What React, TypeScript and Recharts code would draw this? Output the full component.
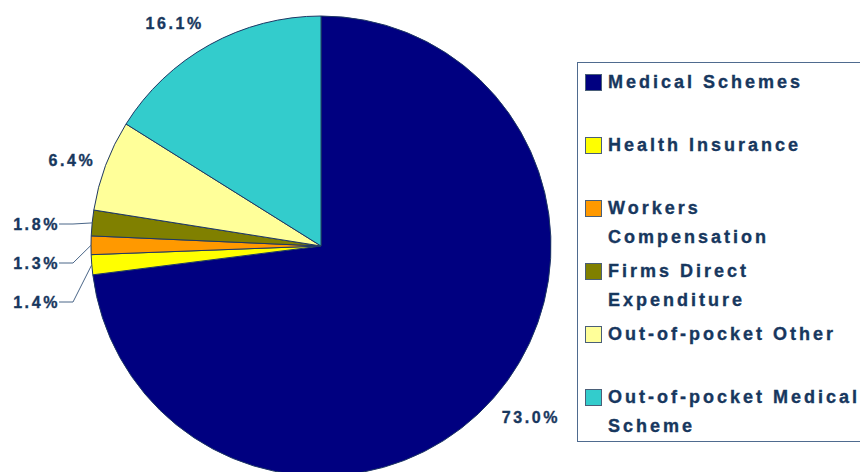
import { PieChart, Pie, Cell, Legend } from 'recharts'

const categories = [
  'Medical Schemes',
  'Health Insurance',
  'Workers Compensation',
  'Firms Direct Expenditure',
  'Out-of-pocket Other',
  'Out-of-pocket Medical Scheme',
]
const shares = [73.0, 1.4, 1.3, 1.8, 6.4, 16.1]
const legendLines = [
  ['Medical Schemes'],
  ['Health Insurance'],
  ['Workers', 'Compensation'],
  ['Firms Direct', 'Expenditure'],
  ['Out-of-pocket Other'],
  ['Out-of-pocket Medical', 'Scheme'],
]

const COLORS = ['#000080', '#ffff00', '#ff9900', '#808000', '#ffff99', '#33cccc']
const TEXT = '#17375e'
const FONT = 'Arial, "Liberation Sans", Helvetica, sans-serif'

// label nudges for the larger slices (layout only)
const NUDGE: Record<number, [number, number]> = {
  0: [8, -6],
  4: [3, 9],
  5: [-16, 13],
}

const data = categories.map((name, i) => ({ name, value: shares[i] }))

const RAD = Math.PI / 180

const labelStyle = {
  fill: TEXT,
  fontFamily: FONT,
  fontWeight: 700,
  fontSize: 16,
  letterSpacing: 2.6,
  stroke: TEXT,
  strokeWidth: 0.35,
}

function renderLabel(props: any) {
  const { cx, cy, midAngle, outerRadius, index, value } = props
  const text = `${Number(value).toFixed(1)}%`
  if (value < 3) {
    const small = data.map((d, i) => (d.value < 3 ? i : -1)).filter((i) => i >= 0)
    const rank = small.indexOf(index)
    const ly = cy + 56 - rank * 39
    const ex = cx + outerRadius * Math.cos(-midAngle * RAD)
    const ey = cy + outerRadius * Math.sin(-midAngle * RAD)
    const kx = cx - outerRadius - 18
    const lx = cx - outerRadius - 32
    return (
      <g>
        <polyline
          points={`${ex},${ey} ${kx},${ly} ${lx},${ly}`}
          fill="none"
          stroke="#4a6688"
          strokeWidth={1}
        />
        <text x={lx + 1} y={ly} textAnchor="end" dominantBaseline="central" style={labelStyle}>
          {text}
        </text>
      </g>
    )
  }
  const r = outerRadius * 1.17
  const [dx, dy] = NUDGE[index] ?? [0, 0]
  const x = cx + r * Math.cos(-midAngle * RAD) + dx
  const y = cy + r * Math.sin(-midAngle * RAD) + dy
  return (
    <text x={x} y={y} textAnchor="middle" dominantBaseline="central" style={labelStyle}>
      {text}
    </text>
  )
}

function LegendBox() {
  return (
    <div
      style={{
        border: '1px solid #4f6b8f',
        boxSizing: 'border-box',
        width: 320,
        height: 380,
        paddingTop: 5,
        paddingLeft: 7,
        fontFamily: FONT,
        fontWeight: 700,
        fontSize: 18,
        letterSpacing: 3,
        color: TEXT,
        WebkitTextStroke: '0.35px ' + TEXT,
      }}
    >
      {legendLines.map((lines, i) => (
        <div key={i} style={{ height: 63, display: 'flex', alignItems: 'flex-start' }}>
          <span
            style={{
              width: 15,
              height: 15,
              marginTop: 6,
              marginRight: 6,
              flexShrink: 0,
              background: COLORS[i],
              border: '1px solid #4a5f78',
            }}
          />
          <div style={{ lineHeight: '29px', whiteSpace: 'nowrap' }}>
            {lines.map((l) => (
              <div key={l}>{l}</div>
            ))}
          </div>
        </div>
      ))}
    </div>
  )
}

export default function App() {
  return (
    <div
      style={{
        position: 'fixed',
        left: 0,
        top: 0,
        width: 860,
        height: 472,
        overflow: 'hidden',
        background: '#fff',
      }}
    >
      <PieChart width={860} height={472} margin={{ top: 0, right: 0, bottom: 0, left: 0 }}>
        <Pie
          data={data}
          dataKey="value"
          nameKey="name"
          cx={321}
          cy={246}
          outerRadius={230}
          startAngle={90}
          endAngle={-270}
          stroke="#1f3864"
          strokeWidth={1}
          label={renderLabel}
          labelLine={false}
          isAnimationActive={false}
        >
          {data.map((d, i) => (
            <Cell key={d.name} fill={COLORS[i]} />
          ))}
        </Pie>
        <Legend
          content={() => <LegendBox />}
          wrapperStyle={{ left: 577, top: 62, width: 320, height: 380 }}
        />
      </PieChart>
    </div>
  )
}
